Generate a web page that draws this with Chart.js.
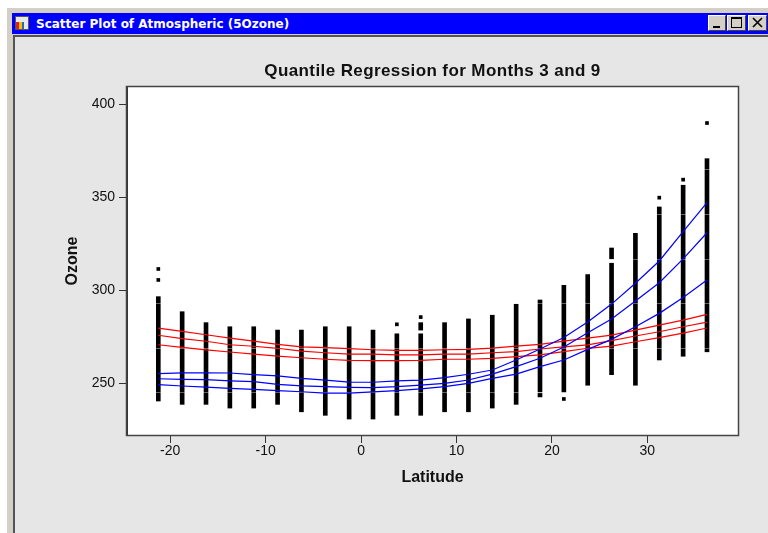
<!DOCTYPE html>
<html>
<head>
<meta charset="utf-8">
<title>Scatter Plot of Atmospheric (5Ozone)</title>
<script src="https://cdn.jsdelivr.net/npm/chart.js@4"></script>
<style>
  html, body { margin: 0; padding: 0; background: #fff; overflow: hidden; }
  #frame { position: absolute; left: 7px; top: 8px; width: 761px; height: 525px; background: #d4d0c8; }
  #titlebar { position: absolute; left: 12px; top: 13px; width: 756px; height: 21px; background: #0000ff; }
  #caption { position: absolute; left: 24px; top: 3px; color: #fff; font: bold 12px "DejaVu Sans", sans-serif; line-height: 17px; white-space: nowrap; }
  #icon { position: absolute; left: 3px; top: 3px; width: 14px; height: 14px; background: #e8e8e8; border: 1px solid #555; box-sizing: border-box; }
  #icon i { position: absolute; left: 0; bottom: 0; width: 8px; height: 7px; background: linear-gradient(90deg, #d22 0 3px, #fb0 3px 6px, #26c 6px); }
  .btn { position: absolute; top: 2px; height: 16px; background: #d4d0c8; box-sizing: border-box; border: 1px solid; border-color: #fff #444 #444 #fff; color: #000; }
  #panel { position: absolute; left: 13px; top: 35px; width: 755px; height: 498px; background: #e6e6e6; border-left: 2px solid #555; border-top: 2px solid #555; box-sizing: border-box; }
  #costChart { position: absolute; left: 0; top: 0; }
</style>
</head>
<body>
<div id="frame"></div>
<div id="titlebar">
  <div id="icon"><i></i></div>
  <div id="caption">Scatter Plot of Atmospheric (5Ozone)</div>
  <div class="btn" style="left:696px;width:18px"><svg width="16" height="14"><rect x="4" y="10" width="7" height="2" fill="#000"/></svg></div>
  <div class="btn" style="left:715px;width:19px"><svg width="17" height="14"><rect x="3.5" y="1.5" width="10" height="10" fill="none" stroke="#000"/><rect x="3" y="1" width="11" height="2" fill="#000"/></svg></div>
  <div class="btn" style="left:736px;width:19px"><svg width="17" height="14"><path d="M4 2L13 11M13 2L4 11" stroke="#000" stroke-width="1.6"/></svg></div>
</div>
<div id="panel"></div>
<canvas id="costChart" width="768" height="533"></canvas>
<script>
var latitudes = [-21.25, -18.75, -16.25, -13.75, -11.25, -8.75, -6.25, -3.75, -1.25, 1.25, 3.75, 6.25,
  8.75, 11.25, 13.75, 16.25, 18.75, 21.25, 23.75, 26.25, 28.75, 31.25, 33.75, 36.25];

// Ozone range covered by the stacked points at each latitude
var ozoneLow = [240.3, 238.5, 238.5, 236.5, 236.5, 238.5, 234.5, 232.6, 230.6, 230.6, 232.6, 232.6,
  234.5, 234.5, 236.5, 238.5, 245.2, 245.2, 248.8, 254.5, 248.8, 262.4, 264.4, 266.8];
var ozoneHigh = [296.5, 288.4, 282.5, 280.3, 280.3, 278.5, 278.5, 280.3, 280.3, 278.5, 276.5, 276.5,
  282.5, 284.5, 286.5, 292.4, 294.7, 302.6, 308.4, 314.5, 330.6, 344.8, 356.5, 370.8];

// Short runs split off from the main stack
var clusterLat = [6.25, 18.75, 26.25];
var clusterLow = [278.5, 242.5, 316.9];
var clusterHigh = [282.5, 244.4, 322.7];

// Single points away from the stacks
var dotLat = [-21.25, -21.25, 3.75, 6.25, 21.25, 31.25, 33.75, 36.25];
var dotOzone = [311.4, 305.5, 281.6, 285.5, 241.4, 349.8, 359.5, 390];

// Levels where the stacks show a thin break
var breakLevels = [244.8, 268.6, 292.9, 316.6, 340.8, 365];

var blueUpper = [255.0, 255.5, 255.5, 255.4, 254.5, 253.8, 252.5, 251.6, 250.5, 250.4, 251.1, 251.6,
  252.9, 254.7, 257.0, 262.4, 268.3, 274.5, 282.8, 292.5, 303.7, 315.7, 331.5, 347.1];
var blueMiddle = [252.3, 252.0, 251.8, 251.2, 250.7, 249.3, 248.5, 248.0, 247.7, 247.5, 248.0, 248.9,
  249.8, 251.6, 254.8, 258.8, 263.3, 269.4, 277.1, 284.5, 294.2, 304.0, 316.8, 330.9];
var blueLower = [249.1, 248.4, 247.8, 247.1, 246.6, 245.9, 245.3, 244.6, 244.6, 245.2, 245.9, 246.8,
  248.0, 249.8, 252.5, 254.8, 258.8, 262.4, 268.1, 273.5, 280.3, 287.5, 296.1, 305.5];

var redUpper = [279.6, 277.8, 276.0, 274.2, 272.6, 270.8, 269.5, 269.0, 268.5, 267.9, 267.6, 267.6,
  267.9, 268.1, 268.8, 269.9, 270.8, 272.6, 274.2, 275.8, 278.5, 281.2, 283.9, 287.0];
var redMiddle = [275.7, 273.9, 272.5, 270.6, 269.8, 268.7, 267.2, 266.3, 265.5, 265.5, 265.1, 265.1,
  265.5, 265.6, 266.3, 266.9, 268.3, 269.5, 270.5, 272.8, 275.3, 277.6, 280.3, 282.8];
var redLower = [270.6, 269.2, 267.8, 266.7, 265.5, 264.5, 263.6, 262.8, 262.2, 262.0, 262.0, 262.2,
  262.8, 262.8, 263.3, 264.2, 265.1, 266.9, 268.7, 269.9, 272.2, 274.4, 276.9, 279.6];

var chartTitle = "Quantile Regression for Months 3 and 9";
var xLabel = "Latitude";
var yLabel = "Ozone";

// Cut one stack at the break levels it crosses
function splitRun(lat, low, high) {
  var pieces = [];
  var start = low;
  breakLevels.forEach(level => {
    if (level > start && level < high) {
      pieces.push({ x: lat, y: [start, level - 0.25] });
      start = level + 0.25;
    }
  });
  pieces.push({ x: lat, y: [start, high] });
  return pieces;
}

function stackData() {
  var bars = [];
  latitudes.forEach((lat, i) => {
    bars = bars.concat(splitRun(lat, ozoneLow[i], ozoneHigh[i]));
  });
  clusterLat.forEach((lat, i) => {
    bars.push({ x: lat, y: [clusterLow[i], clusterHigh[i]] });
  });
  return bars;
}

function curve(values, color) {
  return {
    type: "line",
    data: values.map((v, i) => ({ x: latitudes[i], y: v })),
    borderColor: color,
    borderWidth: 1.2,
    pointRadius: 0,
    tension: 0,
    order: 1
  };
}

// White plot background and the box round it
var plotBox = {
  id: "plotBox",
  beforeDraw(chart) {
    var a = chart.chartArea;
    chart.ctx.fillStyle = "#fff";
    chart.ctx.fillRect(a.left, a.top, a.width, a.height);
  },
  afterDraw(chart) {
    var a = chart.chartArea;
    chart.ctx.strokeStyle = "#444";
    chart.ctx.lineWidth = 1.5;
    chart.ctx.strokeRect(a.left - 0.5, a.top - 0.5, a.width + 1, a.height + 1);
  }
};

// The reference title is set wider than the plain font
var wideTitle = {
  id: "wideTitle",
  afterLayout(chart) {
    var block = chart.titleBlock;
    if (block.wide) return;
    var drawTitle = block.draw.bind(block);
    block.draw = function (area) {
      chart.ctx.save();
      chart.ctx.letterSpacing = "0.4px";
      drawTitle(area);
      chart.ctx.restore();
    };
    block.wide = true;
  }
};

var tickFont = { family: "'Liberation Sans', sans-serif", size: 14 };
var labelFont = { family: "'Liberation Sans', sans-serif", size: 16, weight: "bold" };

new Chart(document.getElementById("costChart"), {
  type: "scatter",
  data: {
    datasets: [
      {
        type: "bar",
        data: stackData(),
        backgroundColor: "#000",
        barThickness: 4,
        grouped: false,
        order: 3
      },
      {
        type: "scatter",
        data: dotLat.map((lat, i) => ({ x: lat, y: dotOzone[i] })),
        backgroundColor: "#000",
        borderWidth: 0,
        pointStyle: "rect",
        pointRadius: 2.6,
        order: 2
      },
      curve(blueUpper, "#0000ff"),
      curve(blueMiddle, "#0000ff"),
      curve(blueLower, "#0000ff"),
      curve(redUpper, "#ff0000"),
      curve(redMiddle, "#ff0000"),
      curve(redLower, "#ff0000")
    ]
  },
  plugins: [plotBox, wideTitle],
  options: {
    responsive: false,
    animation: false,
    layout: { padding: { right: 30 } },
    plugins: {
      legend: { display: false },
      tooltip: { enabled: false },
      title: {
        display: true,
        text: chartTitle,
        fullSize: false,
        color: "#111",
        font: { family: "'Liberation Sans', sans-serif", size: 17, weight: "bold" },
        padding: { top: 60.8, bottom: 5.8 }
      }
    },
    scales: {
      x: {
        type: "linear",
        min: -24.53,
        max: 39.5,
        offset: false,
        afterFit(scale) { scale.height = 98; },
        grid: { drawOnChartArea: false, tickLength: 8, tickColor: "#333", offset: false },
        border: { color: "#333" },
        ticks: { stepSize: 10, includeBounds: false, color: "#111", font: tickFont, maxRotation: 0, padding: 0 },
        title: { display: true, text: xLabel, color: "#111", font: labelFont, padding: { top: 0, bottom: 45.4 } }
      },
      y: {
        type: "linear",
        min: 222,
        max: 409.4,
        afterFit(scale) { scale.width = 127; },
        grid: { drawOnChartArea: false, tickLength: 8, tickColor: "#333" },
        border: { color: "#333" },
        ticks: { stepSize: 50, includeBounds: false, color: "#111", font: tickFont, padding: 4 },
        title: { display: true, text: yLabel, color: "#111", font: labelFont, padding: { top: 63, bottom: 0 } }
      }
    }
  }
});
</script>
</body>
</html>
